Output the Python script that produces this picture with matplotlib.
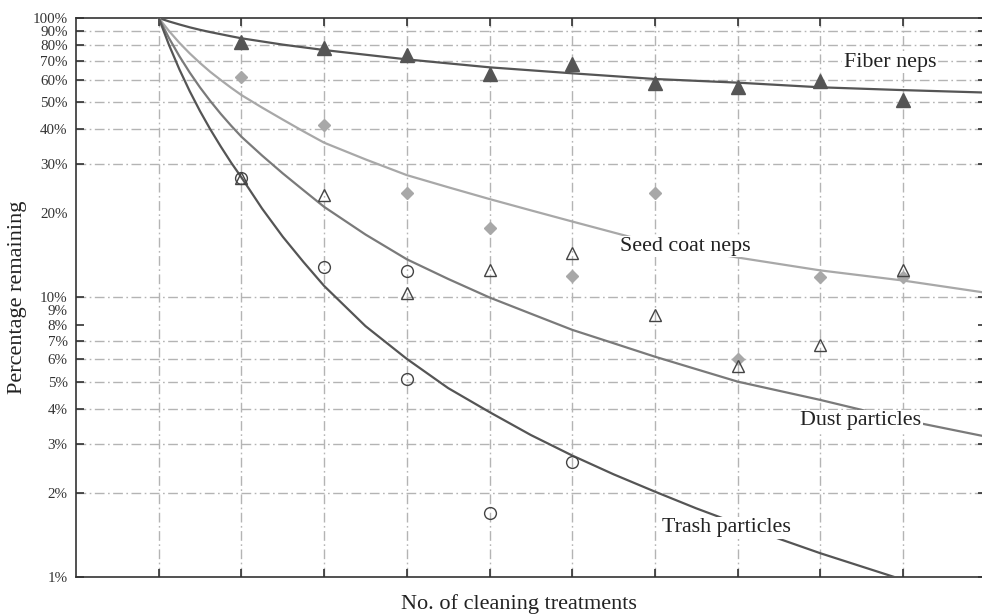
import matplotlib
matplotlib.use("Agg")
import matplotlib.pyplot as plt
from matplotlib.ticker import FixedLocator, NullLocator

# ---- data (percent remaining) ----
treat = [1, 2, 3, 4, 5, 6, 7, 8, 9]

fiber_pts = [82.0, 77.9, 73.7, 63.0, 68.3, 58.7, 56.5, 59.7, 50.9]
seed_pts = [61.6, 41.4, 23.6, 17.7, 11.9, 23.6, 6.0, 11.8, 11.8]
dust_pts = [26.7, 23.3, 10.4, 12.5, 14.4, 8.66, 5.7, 6.76, 12.5]
trash_x = [1, 2, 3, 3, 4, 5]
trash_pts = [26.7, 12.9, 12.4, 5.1, 1.70, 2.57]

# trend curves
fiber_cx = [0, 0.125, 0.25, 0.375, 0.5, 0.625, 0.75, 0.875, 1, 1.5, 2, 3, 4, 5, 6, 7, 8, 9, 10]
fiber_cy = [100, 97.2, 94.8, 92.6, 90.7, 89.0, 87.5, 86.0, 84.6, 80.3, 76.8, 71.1, 66.6, 63.4,
            60.5, 58.7, 56.5, 55.2, 54.1]

seed_cx = [0, 0.125, 0.25, 0.375, 0.5, 0.625, 0.75, 0.875, 1, 1.25, 1.5, 1.75, 2, 2.5, 3, 3.5,
           4, 4.5, 5, 6, 7, 8, 9, 10]
seed_cy = [100, 89.8, 81.5, 74.7, 69.0, 64.1, 60.0, 56.3, 53.0, 47.8, 43.3, 39.3, 35.8, 31.2,
           27.4, 24.8, 22.5, 20.5, 18.7, 15.6, 13.9, 12.5, 11.5, 10.4]

dust_cx = [0, 0.125, 0.25, 0.375, 0.5, 0.625, 0.75, 0.875, 1, 1.25, 1.5, 1.75, 2, 2.5, 3, 3.5,
           4, 4.5, 5, 5.5, 6, 6.5, 7, 8, 9, 10]
dust_cy = [100, 84.7, 73.0, 63.8, 56.4, 50.4, 45.4, 41.2, 37.6, 32.2, 27.8, 24.2, 21.1, 16.8,
           13.7, 11.65, 10.0, 8.75, 7.66, 6.86, 6.14, 5.54, 5.0, 4.3, 3.65, 3.18]

trash_cx = [0, 0.125, 0.25, 0.375, 0.5, 0.625, 0.75, 0.875, 1, 1.25, 1.5, 1.75, 2, 2.5, 3, 3.5,
            4, 4.5, 5, 5.5, 6, 6.5, 7, 7.5, 8, 9]
trash_cy = [100, 80.0, 65.5, 54.7, 46.4, 39.9, 34.7, 30.4, 26.9, 20.8, 16.5, 13.4, 11.0, 7.9,
            6.03, 4.74, 3.89, 3.22, 2.72, 2.33, 2.02, 1.76, 1.55, 1.37, 1.216, 0.977]

ytick_vals = [1, 2, 3, 4, 5, 6, 7, 8, 9, 10, 20, 30, 40, 50, 60, 70, 80, 90, 100]
ytick_labels = [f"{v}%" for v in ytick_vals]
no_grid = [1, 8, 9, 20, 100]
no_tick = [9, 20]

labels = [("Fiber neps", 8.84, 69.5), ("Seed coat neps", 6.37, 15.2),
          ("Dust particles", 8.49, 3.62), ("Trash particles", 6.86, 1.50)]

# ---- figure ----
plt.rcParams['font.family'] = ['Liberation Serif', 'DejaVu Serif']
fig = plt.figure(figsize=(9.82, 6.14), dpi=100)
ax = fig.add_axes([0.0774, 0.0603, 0.9264, 0.9104])

dark = "#555555"
mid = "#7a7a7a"
light = "#a8a8a8"
lw = 1.6

ax.plot(fiber_cx, fiber_cy, color=dark, lw=lw, zorder=3)
ax.plot(seed_cx, seed_cy, color=light, lw=lw, zorder=3)
ax.plot(dust_cx, dust_cy, color=mid, lw=lw, zorder=3)
ax.plot(trash_cx, trash_cy, color=dark, lw=lw, zorder=3)

ax.plot(treat, fiber_pts, ls='none', marker='^', ms=10, color=dark, mec=dark, zorder=4)
ax.plot(treat, seed_pts, ls='none', marker='D', ms=6.0, color=light, mec=light, zorder=4)
ax.plot(treat, dust_pts, ls='none', marker='^', ms=9, mfc='none', mec="#444444", mew=1.0, zorder=4)
ax.plot(trash_x, trash_pts, ls='none', marker='o', ms=8.5, mfc='none', mec="#444444", mew=1.0, zorder=4)

for txt, x, y in labels:
    ax.text(x, y, txt, ha='center', va='center', fontsize=15.8, color="#222222", zorder=5,
            bbox=dict(facecolor='white', edgecolor='none', pad=1.0))

ax.set_yscale('log')
ax.set_ylim(1, 100)
ax.set_xlim(-1, 10)

ax.yaxis.set_major_locator(FixedLocator(ytick_vals))
ax.yaxis.set_minor_locator(NullLocator())
ax.set_yticks(ytick_vals)
ax.set_yticklabels(ytick_labels)
ax.set_xticks(list(range(0, 10)))
ax.set_xticklabels([])
ax.xaxis.set_minor_locator(NullLocator())

ax.tick_params(axis='y', which='major', direction='in', length=6, width=1.2, color="#333333",
               left=True, right=True, labelsize=10.8, pad=6, labelcolor="#333333")
ax.tick_params(axis='x', which='major', direction='in', length=6, width=1.2, color="#333333",
               top=True, bottom=True)

grid_kw = dict(color="#b4b4b4", lw=1.0, ls=(0, (7, 2.5, 1.2, 2.5)))
ax.grid(True, axis='both', **grid_kw)
ax.set_axisbelow(True)

for t, v in zip(ax.yaxis.get_major_ticks(), ytick_vals):
    if v in no_grid:
        t.gridline.set_visible(False)
    if v in no_tick:
        t.tick1line.set_visible(False)
        t.tick2line.set_visible(False)

for s in ['left', 'bottom', 'top']:
    ax.spines[s].set_color("#333333")
    ax.spines[s].set_linewidth(1.2)
ax.spines['right'].set_visible(False)

ax.set_ylabel("Percentage remaining", fontsize=16, color="#222222")
ax.yaxis.set_label_coords(-0.054, 0.5)
ax.set_xlabel("No. of cleaning treatments", fontsize=16, color="#222222")
ax.xaxis.set_label_coords(0.4865, -0.031)

fig.savefig("out.png", dpi=100)
